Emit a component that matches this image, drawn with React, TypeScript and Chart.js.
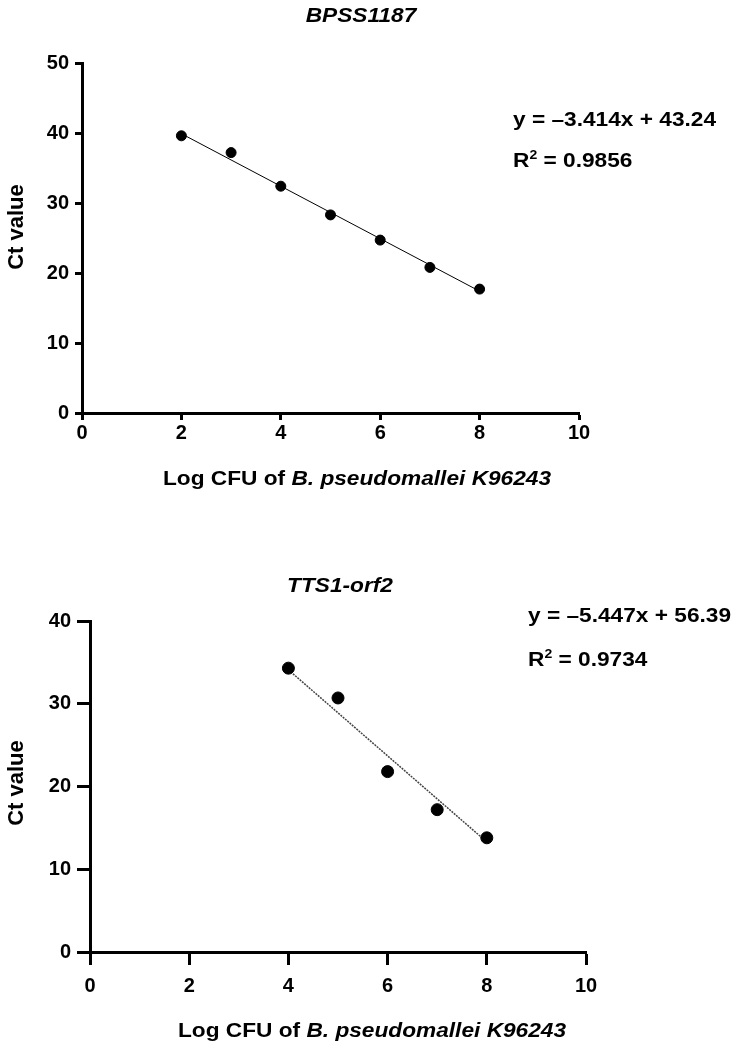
import React, { useEffect, useRef } from "react";
import { Chart, registerables } from "chart.js";

Chart.register(...registerables);

const FONT = '"Liberation Sans", Arial, Helvetica, sans-serif';

// ---------- Data: top panel (BPSS1187) ----------
const bpssTitle = "BPSS1187";
const bpssLogCfu = [2, 3, 4, 5, 6, 7, 8];
const bpssCt = [39.6, 37.2, 32.4, 28.3, 24.7, 20.8, 17.7];
const bpssFitX = [2, 8];
const bpssFitY = [39.9, 17.4];
const bpssEquation = "y = \u20133.414x + 43.24";
const bpssR2 = "0.9856";
const bpssXTicks = [0, 2, 4, 6, 8, 10];
const bpssYTicks = [0, 10, 20, 30, 40, 50];

// ---------- Data: bottom panel (TTS1-orf2) ----------
const ttsTitle = "TTS1-orf2";
const ttsLogCfu = [4, 5, 6, 7, 8];
const ttsCt = [34.3, 30.7, 21.8, 17.2, 13.8];
const ttsFitX = [4, 8];
const ttsFitY = [34.1, 13.3];
const ttsEquation = "y = \u20135.447x + 56.39";
const ttsR2 = "0.9734";
const ttsXTicks = [0, 2, 4, 6, 8, 10];
const ttsYTicks = [0, 10, 20, 30, 40];

const xAxisTitleParts = [
  { text: "Log CFU of ", italic: false },
  { text: "B. pseudomallei K96243", italic: true },
];
const yAxisTitle = "Ct value";

type Seg = { text: string; italic?: boolean; size?: number; dy?: number };

function drawSegs(
  ctx: CanvasRenderingContext2D,
  segs: Seg[],
  x: number,
  y: number,
  align: "left" | "center",
  size: number,
  stretch: number
) {
  ctx.save();
  ctx.translate(x, y);
  ctx.scale(stretch, 1);
  ctx.fillStyle = "#000";
  ctx.textAlign = "left";
  ctx.textBaseline = "alphabetic";
  const fonts = segs.map(
    (s) => `${s.italic ? "italic " : ""}bold ${s.size || size}px ${FONT}`
  );
  const widths = segs.map((s, i) => {
    ctx.font = fonts[i];
    return ctx.measureText(s.text).width;
  });
  const total = widths.reduce((a, b) => a + b, 0);
  let cx = align === "center" ? -total / 2 : 0;
  segs.forEach((s, i) => {
    ctx.font = fonts[i];
    ctx.fillText(s.text, cx, s.dy || 0);
    cx += widths[i];
  });
  ctx.restore();
}

type PanelProps = {
  width: number;
  height: number;
  area: { left: number; right: number; top: number; bottom: number };
  xs: number[];
  ys: number[];
  fitX: number[];
  fitY: number[];
  xTicks: number[];
  yTicks: number[];
  yMax: number;
  title: string;
  equation: string;
  r2: string;
  pointRadius: number;
  fitColor: string;
  fitWidth: number;
  fitDash: number[];
  tickLength: number;
  tickFont: number;
  yPad: number;
  xPad: number;
  text: {
    titleX: number;
    titleY: number;
    yTitleX: number;
    yTitleY: number;
    xTitleX: number;
    xTitleY: number;
    eqX: number;
    eqY: number;
    r2Y: number;
  };
};

function Panel(p: PanelProps) {
  const ref = useRef<HTMLCanvasElement | null>(null);
  useEffect(() => {
    const canvas = ref.current;
    if (!canvas) return;
    const textPlugin = {
      id: "panelText",
      afterDraw(chart: any) {
        const ctx: CanvasRenderingContext2D = chart.ctx;
        const t = p.text;
        drawSegs(ctx, [{ text: p.title, italic: true }], t.titleX, t.titleY, "center", 21, 1.08);
        drawSegs(ctx, xAxisTitleParts, t.xTitleX, t.xTitleY, "center", 21, 1.08);
        drawSegs(ctx, [{ text: p.equation }], t.eqX, t.eqY, "left", 21, 1.08);
        drawSegs(
          ctx,
          [{ text: "R" }, { text: "2", size: 13, dy: -8 }, { text: " = " + p.r2 }],
          t.eqX,
          t.r2Y,
          "left",
          21,
          1.08
        );
        ctx.save();
        ctx.translate(t.yTitleX, t.yTitleY);
        ctx.rotate(-Math.PI / 2);
        ctx.fillStyle = "#000";
        ctx.textAlign = "center";
        ctx.textBaseline = "middle";
        ctx.font = `bold 22px ${FONT}`;
        ctx.fillText(yAxisTitle, 0, 0);
        ctx.restore();
      },
    };

    const axisCommon = (ticksArr: number[], pad: number) => ({
      type: "linear" as const,
      grid: {
        display: true,
        drawOnChartArea: false,
        drawTicks: true,
        tickLength: p.tickLength,
        tickWidth: 3,
        tickColor: "#000",
      },
      border: { display: true, width: 3, color: "#000" },
      ticks: {
        color: "#000",
        padding: pad,
        autoSkip: false,
        maxRotation: 0,
        font: { family: FONT, size: p.tickFont, weight: "bold" as const },
      },
      afterBuildTicks: (scale: any) => {
        scale.ticks = ticksArr.map((v) => ({ value: v }));
      },
    });

    const chart = new Chart(canvas, {
      type: "scatter",
      data: {
        datasets: [
          {
            type: "line",
            data: p.fitX.map((x, i) => ({ x, y: p.fitY[i] })),
            borderColor: p.fitColor,
            borderWidth: p.fitWidth,
            borderDash: p.fitDash,
            pointRadius: 0,
            fill: false,
            order: 2,
          } as any,
          {
            type: "scatter",
            data: p.xs.map((x, i) => ({ x, y: p.ys[i] })),
            backgroundColor: "#000",
            borderColor: "#000",
            pointRadius: p.pointRadius,
            pointHoverRadius: p.pointRadius,
            order: 1,
          },
        ],
      },
      options: {
        responsive: false,
        animation: false,
        events: [],
        layout: {
          padding: {
            left: 0,
            top: p.area.top,
            right: p.width - p.area.right,
            bottom: 0,
          },
        },
        plugins: {
          legend: { display: false },
          tooltip: { enabled: false },
          title: { display: false },
        },
        scales: {
          x: {
            ...axisCommon(p.xTicks, p.xPad),
            min: 0,
            max: 10,
            afterFit: (scale: any) => {
              scale.height = p.height - p.area.bottom;
            },
          },
          y: {
            ...axisCommon(p.yTicks, p.yPad),
            min: 0,
            max: p.yMax,
            afterFit: (scale: any) => {
              scale.width = p.area.left;
            },
          },
        },
      },
      plugins: [textPlugin],
    });
    return () => chart.destroy();
  }, []);
  return (
    <canvas
      ref={ref}
      width={p.width}
      height={p.height}
      style={{ display: "block", width: p.width, height: p.height }}
    />
  );
}

export default function App() {
  return (
    <div style={{ position: "absolute", left: 0, top: 0, width: 740, height: 1054, background: "#fff" }}>
      <Panel
        width={740}
        height={527}
        area={{ left: 82, right: 579, top: 63, bottom: 413 }}
        xs={bpssLogCfu}
        ys={bpssCt}
        fitX={bpssFitX}
        fitY={bpssFitY}
        xTicks={bpssXTicks}
        yTicks={bpssYTicks}
        yMax={50}
        title={bpssTitle}
        equation={bpssEquation}
        r2={bpssR2}
        pointRadius={5}
        fitColor="#000"
        fitWidth={1}
        fitDash={[]}
        tickLength={7}
        tickFont={20}
        yPad={6}
        xPad={1}
        text={{
          titleX: 361,
          titleY: 22,
          yTitleX: 17,
          yTitleY: 227,
          xTitleX: 357,
          xTitleY: 485,
          eqX: 513,
          eqY: 126,
          r2Y: 167,
        }}
      />
      <Panel
        width={740}
        height={527}
        area={{ left: 90, right: 586, top: 94, bottom: 425 }}
        xs={ttsLogCfu}
        ys={ttsCt}
        fitX={ttsFitX}
        fitY={ttsFitY}
        xTicks={ttsXTicks}
        yTicks={ttsYTicks}
        yMax={40}
        title={ttsTitle}
        equation={ttsEquation}
        r2={ttsR2}
        pointRadius={6}
        fitColor="#444"
        fitWidth={1.5}
        fitDash={[2, 1]}
        tickLength={13}
        tickFont={20}
        yPad={6}
        xPad={9}
        text={{
          titleX: 340,
          titleY: 65,
          yTitleX: 17,
          yTitleY: 256,
          xTitleX: 372,
          xTitleY: 510,
          eqX: 528,
          eqY: 95,
          r2Y: 139,
        }}
      />
    </div>
  );
}
